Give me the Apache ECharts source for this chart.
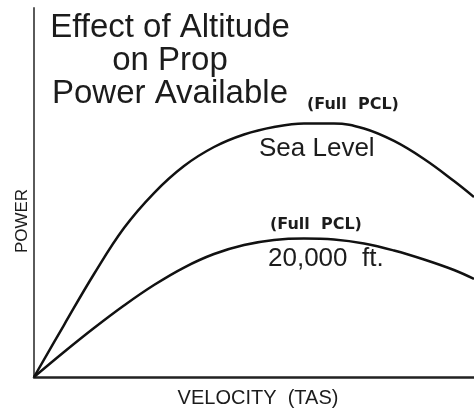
<!DOCTYPE html>
<html>
<head>
<meta charset="utf-8">
<title>Effect of Altitude on Prop Power Available</title>
<script src="https://cdn.jsdelivr.net/npm/echarts@6/dist/echarts.min.js"></script>
<style>
  html, body { margin: 0; padding: 0; background: #ffffff; }
  #chart { width: 474px; height: 413px; }
</style>
</head>
<body>
<div id="chart"></div>
<script>
// Velocity (TAS) on a 0-100 relative scale
var velocity = [0, 6.82, 13.64, 20.45, 27.27, 34.09, 40.91, 47.73, 54.55, 61.36, 68.18, 75.0, 81.82, 88.64, 95.45, 100];
// Power available at sea level, full PCL (relative units)
var seaLevelPower = [0, 14.09, 27.91, 40.38, 49.86, 57.18, 62.33, 65.72, 67.75, 68.70, 68.70, 67.34, 63.96, 59.08, 53.12, 48.78];
// Power available at 20,000 ft, full PCL (relative units)
var altitudePower = [0, 6.78, 13.28, 19.38, 24.93, 29.67, 33.33, 35.77, 37.13, 37.53, 37.26, 36.18, 34.28, 31.84, 28.99, 26.56];

var titleLines = ['Effect of Altitude', 'on Prop', 'Power Available'];
var throttleNote = '(Full  PCL)';
var seaLevelName = 'Sea Level';
var altitudeName = '20,000  ft.';
var xAxisName = 'VELOCITY  (TAS)';
var yAxisName = 'POWER';

function pairs(xs, ys) {
  return xs.map(function (x, i) { return [x, ys[i]]; });
}

var ink = '#1c1c1c';
var sans = '"Liberation Sans", Arial, Helvetica, sans-serif';
var noteFont = '"DejaVu Sans", sans-serif';

var chart = echarts.init(document.getElementById('chart'), null, { renderer: 'canvas' });

chart.setOption({
  animation: false,
  backgroundColor: '#ffffff',
  title: {
    text: titleLines.join('\n'),
    left: 170,
    top: 11,
    padding: 0,
    textAlign: 'center',
    textStyle: {
      fontFamily: sans,
      fontSize: 33,
      lineHeight: 33,
      fontWeight: 'normal',
      color: ink
    }
  },
  grid: { left: 34, right: 0, top: 8, bottom: 36, containLabel: false },
  xAxis: {
    type: 'value',
    min: 0,
    max: 100,
    axisLine: { show: true, onZero: false, lineStyle: { color: '#222', width: 2.5 } },
    axisTick: { show: false },
    axisLabel: { show: false },
    splitLine: { show: false }
  },
  yAxis: {
    type: 'value',
    min: 0,
    max: 100,
    axisLine: { show: true, onZero: false, lineStyle: { color: '#5a5a5a', width: 2 } },
    axisTick: { show: false },
    axisLabel: { show: false },
    splitLine: { show: false }
  },
  series: [
    {
      name: seaLevelName,
      type: 'line',
      data: pairs(velocity, seaLevelPower),
      smooth: 0.4,
      showSymbol: false,
      clip: false,
      lineStyle: { color: '#111', width: 2.5 }
    },
    {
      name: altitudeName,
      type: 'line',
      data: pairs(velocity, altitudePower),
      smooth: 0.4,
      showSymbol: false,
      clip: false,
      lineStyle: { color: '#111', width: 2.5 }
    }
  ],
  graphic: [
    {
      type: 'text', x: 307, y: 105,
      style: { text: throttleNote, fontFamily: noteFont, fontWeight: 'bold', fontSize: 16, fill: ink, align: 'left', verticalAlign: 'middle' }
    },
    {
      type: 'text', x: 259, y: 149,
      style: { text: seaLevelName, fontFamily: sans, fontSize: 26, fill: ink, align: 'left', verticalAlign: 'middle' }
    },
    {
      type: 'text', x: 270, y: 225,
      style: { text: throttleNote, fontFamily: noteFont, fontWeight: 'bold', fontSize: 16, fill: ink, align: 'left', verticalAlign: 'middle' }
    },
    {
      type: 'text', x: 268, y: 259,
      style: { text: altitudeName, fontFamily: sans, fontSize: 26, fill: ink, align: 'left', verticalAlign: 'middle' }
    },
    {
      type: 'text', x: 258, y: 398,
      style: { text: xAxisName, fontFamily: sans, fontSize: 20, fill: ink, align: 'center', verticalAlign: 'middle' }
    },
    {
      type: 'text', x: 22, y: 221, rotation: Math.PI / 2,
      style: { text: yAxisName, fontFamily: sans, fontSize: 17, fill: ink, align: 'center', verticalAlign: 'middle' }
    }
  ]
});
</script>
</body>
</html>
